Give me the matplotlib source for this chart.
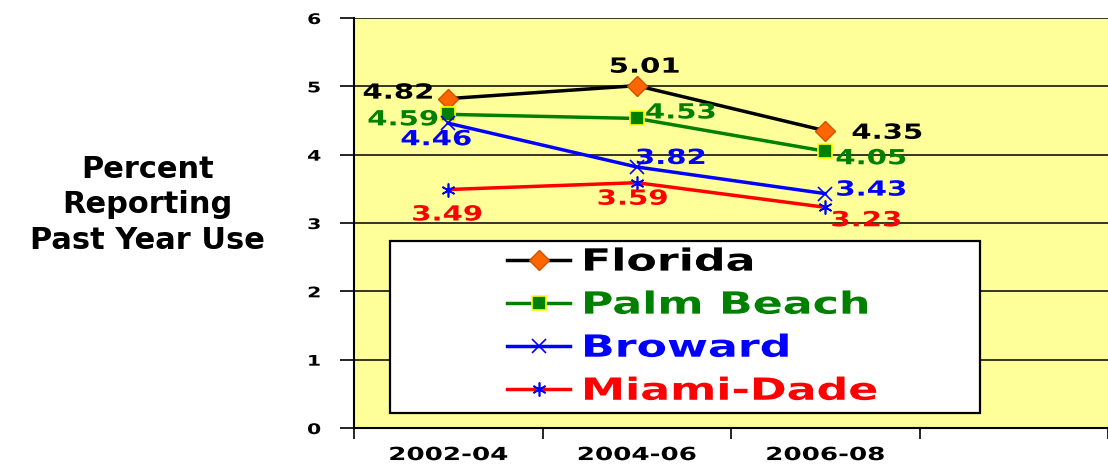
import matplotlib
matplotlib.use("Agg")
import matplotlib.pyplot as plt
from matplotlib.patches import Rectangle
from matplotlib.patheffects import AbstractPathEffect
from matplotlib.transforms import Affine2D

# data
periods = ["2002-04", "2004-06", "2006-08"]
florida = [4.82, 5.01, 4.35]
palm_beach = [4.59, 4.53, 4.05]
broward = [4.46, 3.82, 3.43]
miami_dade = [3.49, 3.59, 3.23]
names = ["Florida", "Palm Beach", "Broward", "Miami-Dade"]

# label offsets in pixels (x, y) relative to each point
label_offsets = [
    [(-50, 6), (8, 19), (62, -2)],
    [(-45, -5), (44, 6), (46, -7)],
    [(-12, -16), (34, 9), (46, 4)],
    [(-1, -25), (-4, -16), (41, -13)],
]


class Widen(AbstractPathEffect):
    """Stretch text horizontally (the original chart uses very wide lettering)."""

    def __init__(self, sx=1.4, anchor="center"):
        super().__init__()
        self.sx = sx
        self.anchor = anchor

    def draw_path(self, renderer, gc, tpath, affine, rgbFace=None):
        ext = tpath.get_extents(affine)
        x0 = ext.x0 if self.anchor == "left" else (ext.x0 + ext.x1) / 2
        stretch = Affine2D().translate(-x0, 0).scale(self.sx, 1).translate(x0, 0)
        renderer.draw_path(gc, tpath, affine + stretch, rgbFace)


plt.rcParams["font.family"] = ["DejaVu Sans"]
plt.rcParams["font.weight"] = "bold"

fig = plt.figure(figsize=(11.08, 4.65), dpi=100)
ax = fig.add_axes([354 / 1108, 37 / 465, 754 / 1108, 410 / 465])
ax.set_facecolor("#FFFF99")

x = list(range(len(periods)))
series = [florida, palm_beach, broward, miami_dade]
line_colors = ["black", "#008000", "#0000FF", "#FF0000"]
styles = [
    dict(marker="D", ms=10, mfc="#FF6600", mec="#D05000", mew=1),
    dict(marker="s", ms=10, mfc="#008000", mec="#FFFF00", mew=1.2),
    dict(marker="x", ms=10, mfc="none", mec="#0000FF", mew=1.2),
    dict(marker=(6, 2, 0), ms=10, mfc="none", mec="#0000FF", mew=1.2),
]

for vals, name, col, st, offs in zip(series, names, line_colors, styles, label_offsets):
    ax.plot(x, vals, color=col, lw=2.5, label=name, zorder=3, **st)
    for xi, v, (dx, dy) in zip(x, vals, offs):
        ax.annotate(f"{v:.2f}", (xi, v), xytext=(dx, dy), textcoords="offset pixels",
                    ha="center", va="center", fontsize=15, color=col, zorder=4,
                    path_effects=[Widen(1.4)])

ax.set_xlim(-0.5, 3.47)
ax.set_ylim(0, 6)
ax.set_yticks(range(7))
ax.yaxis.grid(True, color="black", lw=1.1)
ax.set_axisbelow(True)
ax.tick_params(axis="y", length=10, width=1.2, pad=15, labelsize=10.5)

ax.set_xticks(x, periods)
ax.tick_params(axis="x", which="major", length=0, pad=13, labelsize=13)
ax.set_xticks([-0.5, 0.5, 1.5, 2.5, 3.5], minor=True)
ax.tick_params(axis="x", which="minor", length=8, width=1.2)

for lbl in ax.get_xticklabels():
    lbl.set_path_effects([Widen(1.45)])
for lbl in ax.get_yticklabels():
    lbl.set_path_effects([Widen(1.4)])

for side in ["right", "top"]:
    ax.spines[side].set_visible(False)
for side in ["left", "bottom"]:
    ax.spines[side].set_linewidth(1.5)

# white legend box
ax.add_patch(Rectangle((0.048, 0.037), 0.782, 0.42, transform=ax.transAxes,
                       facecolor="white", edgecolor="black", lw=1.6, zorder=5))
leg = ax.legend(loc="upper left", bbox_to_anchor=(0.203, 0.44), frameon=False,
                fontsize=22, handlelength=2.06, handletextpad=0.4,
                labelspacing=0.46, borderpad=0, borderaxespad=0)
leg.set_zorder(6)
for t, col in zip(leg.get_texts(), line_colors):
    t.set_color(col)
    t.set_path_effects([Widen(1.45, "left")])

fig.text(0.133, 0.56, "Percent\nReporting\nPast Year Use", ha="center", va="center",
         multialignment="center", fontsize=22, linespacing=1.28)

fig.savefig("out.png", dpi=100)
